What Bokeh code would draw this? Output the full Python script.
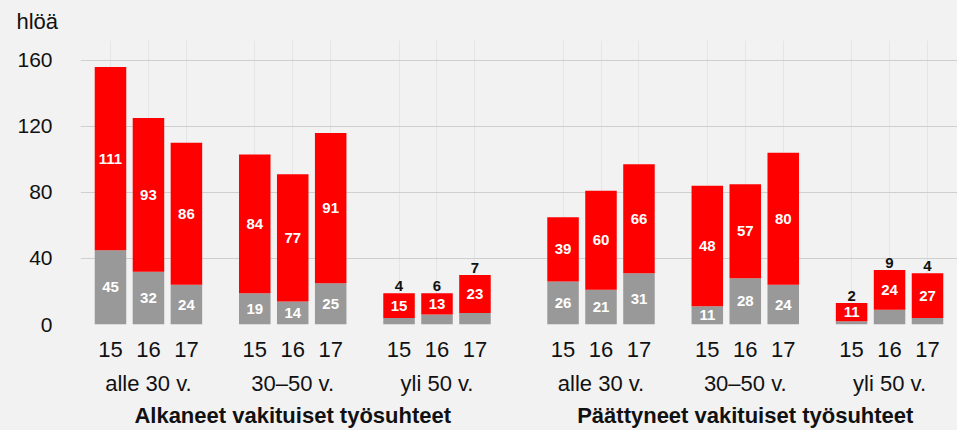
from bokeh.plotting import figure
from bokeh.models import (ColumnDataSource, FactorRange, Range1d, CategoricalAxis,
                          FixedTicker, Title, GlobalInlineStyleSheet)
from bokeh.core.properties import value
from bokeh.embed import file_html
from bokeh.resources import INLINE

# ---------------- data ----------------
groups = ["Alkaneet vakituiset työsuhteet", "Päättyneet vakituiset työsuhteet"]
ages = ["alle 30 v.", "30–50 v.", "yli 50 v."]
years = ["15", "16", "17"]

grey_alkaneet = [45, 32, 24, 19, 14, 25, 4, 6, 7]
red_alkaneet = [111, 93, 86, 84, 77, 91, 15, 13, 23]
red_labels_alkaneet = ["111", "93", "86", "84", "77", "91", "15", "13", "23"]

grey_paattyneet = [26, 21, 31, 11, 28, 24, 2, 9, 4]
red_paattyneet = [39, 60, 66, 73, 57, 80, 11, 24, 27]          # drawn bar heights
red_labels_paattyneet = ["39", "60", "66", "48", "57", "80", "11", "24", "27"]  # printed labels

y_ticks = [0, 40, 80, 120, 160]
y_unit = "hlöä"

# ---------------- build table ----------------
factors = [(g, a, y) for g in groups for a in ages for y in years]
grey = grey_alkaneet + grey_paattyneet
red = red_alkaneet + red_paattyneet
red_text = red_labels_alkaneet + red_labels_paattyneet

src = ColumnDataSource(dict(
    x=factors,
    grey=grey,
    top=[g + r for g, r in zip(grey, red)],
    red_mid=[g + r / 2 for g, r in zip(grey, red)],
    red_text=red_text,
))
inside = [i for i, g in enumerate(grey) if g >= 10]
outside = [i for i, g in enumerate(grey) if g < 10]
src_in = ColumnDataSource(dict(
    x=[factors[i] for i in inside],
    y=[grey[i] / 2 for i in inside],
    t=[str(grey[i]) for i in inside],
))
src_out = ColumnDataSource(dict(
    x=[factors[i] for i in outside],
    y=[grey[i] + red[i] for i in outside],
    t=[str(grey[i]) for i in outside],
))

FONT = "Liberation Sans"
BG = "#f2f2f2"
TXT = "#111111"

p = figure(
    width=957, height=430,
    x_range=FactorRange(*factors, factor_padding=0.0, subgroup_padding=0.8,
                        group_padding=1.32, range_padding=0.29,
                        range_padding_units="absolute"),
    y_range=Range1d(0, 172),
    output_backend="svg", toolbar_location=None, x_axis_location=None,
    min_border_left=80, min_border_right=0, min_border_top=38, min_border_bottom=106,
    background_fill_color=BG, border_fill_color=BG, outline_line_color=None,
)
p.stylesheets.append(GlobalInlineStyleSheet(css="body { background: #f2f2f2; }"))

p.title = Title(text=y_unit, align="left", offset=-64, text_font_size="22px",
                text_font_style="normal", text_font=FONT, text_color=TXT,
                standoff=13)

# bars
p.vbar(x="x", bottom=0, top="grey", width=0.83, source=src,
       fill_color="#999999", line_color=None)
p.vbar(x="x", bottom="grey", top="top", width=0.83, source=src,
       fill_color="#ff0000", line_color=None)

# value labels
p.text(x="x", y="red_mid", text="red_text", source=src, text_align="center",
       text_baseline="middle", text_color="white", text_font=value(FONT),
       text_font_style="bold", text_font_size="15px")
p.text(x="x", y="y", text="t", source=src_in, text_align="center",
       text_baseline="middle", text_color="white", text_font=value(FONT),
       text_font_style="bold", text_font_size="15px")
p.text(x="x", y="y", text="t", source=src_out, text_align="center",
       text_baseline="alphabetic", y_offset=-7, text_color=TXT,
       text_font=value(FONT), text_font_style="bold", text_font_size="15px")

# y axis
p.yaxis.ticker = FixedTicker(ticks=y_ticks)
p.yaxis.axis_line_color = None
p.yaxis.major_tick_line_color = None
p.yaxis.minor_tick_line_color = None
p.yaxis.major_label_standoff = 22
p.yaxis.major_label_text_font = FONT
p.yaxis.major_label_text_font_size = "21px"
p.yaxis.major_label_text_color = TXT
p.ygrid.ticker = FixedTicker(ticks=y_ticks)
p.ygrid.grid_line_color = "#cfcfcf"
p.ygrid.grid_line_width = 1


def make_axis(level, standoff):
    ax = CategoricalAxis(axis_line_color=None, major_tick_line_color=None,
                         major_tick_out=0, major_tick_in=0,
                         separator_line_color=None,
                         major_label_standoff=standoff)
    ax.major_label_text_font = FONT
    ax.subgroup_text_font = FONT
    ax.group_text_font = FONT
    ax.major_label_text_color = TXT
    ax.subgroup_text_color = TXT
    ax.group_text_color = TXT
    ax.subgroup_text_font_style = "normal"
    ax.group_text_font_style = "bold"
    sizes = ["0px", "0px", "0px"]
    sizes[level] = "22px"
    ax.major_label_text_font_size = sizes[0]
    ax.subgroup_text_font_size = sizes[1]
    ax.group_text_font_size = sizes[2]
    alphas = [0, 0, 0]
    alphas[level] = 1
    ax.major_label_text_alpha = alphas[0]
    ax.subgroup_text_alpha = alphas[1]
    ax.group_text_alpha = alphas[2]
    return ax


p.add_layout(make_axis(0, 17), "below")
p.add_layout(make_axis(1, 11), "below")
p.add_layout(make_axis(2, 4), "below")

open("out.html", "w").write(file_html(p, INLINE))
